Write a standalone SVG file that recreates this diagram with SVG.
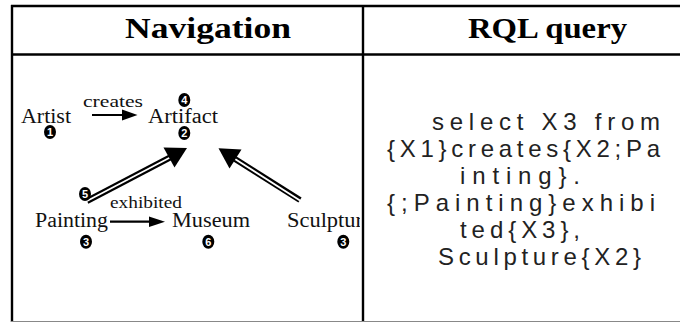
<svg xmlns="http://www.w3.org/2000/svg" width="680" height="323" viewBox="0 0 680 323">
  <style>
    .rule{stroke:#000;stroke-width:2.4;fill:none}
    .hdr{font-family:"Liberation Serif","Times New Roman",serif;font-weight:bold;font-size:29px;fill:#000}
    .lbl{font-family:"Liberation Serif","Times New Roman",serif;font-size:20px;fill:#111}
    .edge{font-family:"Liberation Serif","Times New Roman",serif;font-size:17px;fill:#111}
    .badge ellipse{fill:#000}
    .badge text{font-family:"Liberation Sans",Arial,sans-serif;font-weight:bold;font-size:11px;fill:#fff;text-anchor:middle}
    .q{font-family:"Liberation Sans",Arial,sans-serif;font-size:24px;fill:#222}
    .shaft{stroke:#000;stroke-width:2.2}
    .dbl-out{stroke:#000;stroke-width:6}
    .dbl-in{stroke:#fff;stroke-width:1.8}
    .head{fill:#000}
  </style>
  <defs>
    <clipPath id="navClip"><rect x="14" y="60" width="346" height="200"/></clipPath>
  </defs>

  <rect width="680" height="323" fill="#fff"/>

  <!-- table grid -->
  <g id="table">
    <line class="rule" x1="11" y1="6" x2="680" y2="6"/>
    <line class="rule" x1="11" y1="54.5" x2="680" y2="54.5"/>
    <line class="rule" x1="12" y1="5" x2="12" y2="322"/>
    <line class="rule" x1="363" y1="5" x2="363" y2="322"/>
    <line x1="11" y1="321.5" x2="680" y2="321.5" stroke="#888" stroke-width="1.2"/>
    <text class="hdr" x="125" y="38" textLength="166" lengthAdjust="spacingAndGlyphs">Navigation</text>
    <text class="hdr" x="468" y="38" textLength="159" lengthAdjust="spacingAndGlyphs">RQL query</text>
  </g>

  <!-- navigation path -->
  <g clip-path="url(#navClip)">
    <g id="connectors">
      <g id="edge-creates">
        <line class="shaft" x1="92" y1="115" x2="125" y2="115"/>
        <polygon class="head" points="122,109.5 137.5,115 122,120.5"/>
        <text class="edge" x="83" y="106.7" textLength="60" lengthAdjust="spacingAndGlyphs">creates</text>
      </g>
      <g id="edge-exhibited">
        <line class="shaft" x1="110" y1="221.7" x2="152" y2="221.7"/>
        <polygon class="head" points="149,216.5 165,221.7 149,227"/>
        <text class="edge" x="110" y="208" textLength="72" lengthAdjust="spacingAndGlyphs">exhibited</text>
      </g>
      <g id="edge-painting-artifact">
        <line class="dbl-out" x1="87" y1="201" x2="170" y2="157.5"/>
        <line class="dbl-in" x1="86" y1="201.5" x2="170" y2="157.5"/>
        <polygon class="head" points="187,148 174.5,167.5 163.5,147.5"/>
      </g>
      <g id="edge-sculpture-artifact">
        <line class="dbl-out" x1="300" y1="200" x2="235" y2="159"/>
        <line class="dbl-in" x1="300" y1="200.5" x2="235" y2="159"/>
        <polygon class="head" points="218.5,148.3 241.5,149.5 229.5,168.5"/>
      </g>
    </g>

    <g id="node-artist">
      <text class="lbl" x="21" y="122.7" textLength="50" lengthAdjust="spacingAndGlyphs">Artist</text>
      <g class="badge"><ellipse cx="50" cy="132" rx="6" ry="7"/><text x="50" y="136">1</text></g>
    </g>
    <g id="node-artifact">
      <text class="lbl" x="148" y="122.7" textLength="70" lengthAdjust="spacingAndGlyphs">Artifact</text>
      <g class="badge"><ellipse cx="184.3" cy="100" rx="6" ry="7"/><text x="184.3" y="104">4</text></g>
      <g class="badge"><ellipse cx="184.3" cy="133" rx="6" ry="7"/><text x="184.3" y="137">2</text></g>
    </g>
    <g id="node-painting">
      <text class="lbl" x="35" y="226.7" textLength="73" lengthAdjust="spacingAndGlyphs">Painting</text>
      <g class="badge"><ellipse cx="85" cy="194" rx="6" ry="7"/><text x="85" y="198">5</text></g>
      <g class="badge"><ellipse cx="86" cy="241.7" rx="6" ry="7"/><text x="86" y="245.7">3</text></g>
    </g>
    <g id="node-museum">
      <text class="lbl" x="172" y="226.7" textLength="78" lengthAdjust="spacingAndGlyphs">Museum</text>
      <g class="badge"><ellipse cx="208.3" cy="241.7" rx="6" ry="7"/><text x="208.3" y="245.7">6</text></g>
    </g>
    <g id="node-sculpture">
      <text class="lbl" x="287" y="226.7" textLength="76" lengthAdjust="spacingAndGlyphs">Sculptur</text>
      <g class="badge"><ellipse cx="343.3" cy="241.7" rx="6" ry="7"/><text x="343.3" y="245.7">3</text></g>
    </g>
  </g>

  <!-- RQL query -->
  <g id="query">
    <text class="q" x="432" y="130" textLength="228" lengthAdjust="spacing">select X3 from</text>
    <text class="q" x="387" y="157" textLength="273" lengthAdjust="spacing">{X1}creates{X2;Pa</text>
    <text class="q" x="460" y="184" textLength="120" lengthAdjust="spacing">inting}.</text>
    <text class="q" x="387" y="211" textLength="268" lengthAdjust="spacing">{;Painting}exhibi</text>
    <text class="q" x="460" y="238" textLength="120" lengthAdjust="spacing">ted{X3},</text>
    <text class="q" x="438" y="265" textLength="203" lengthAdjust="spacing">Sculpture{X2}</text>
  </g>
</svg>
